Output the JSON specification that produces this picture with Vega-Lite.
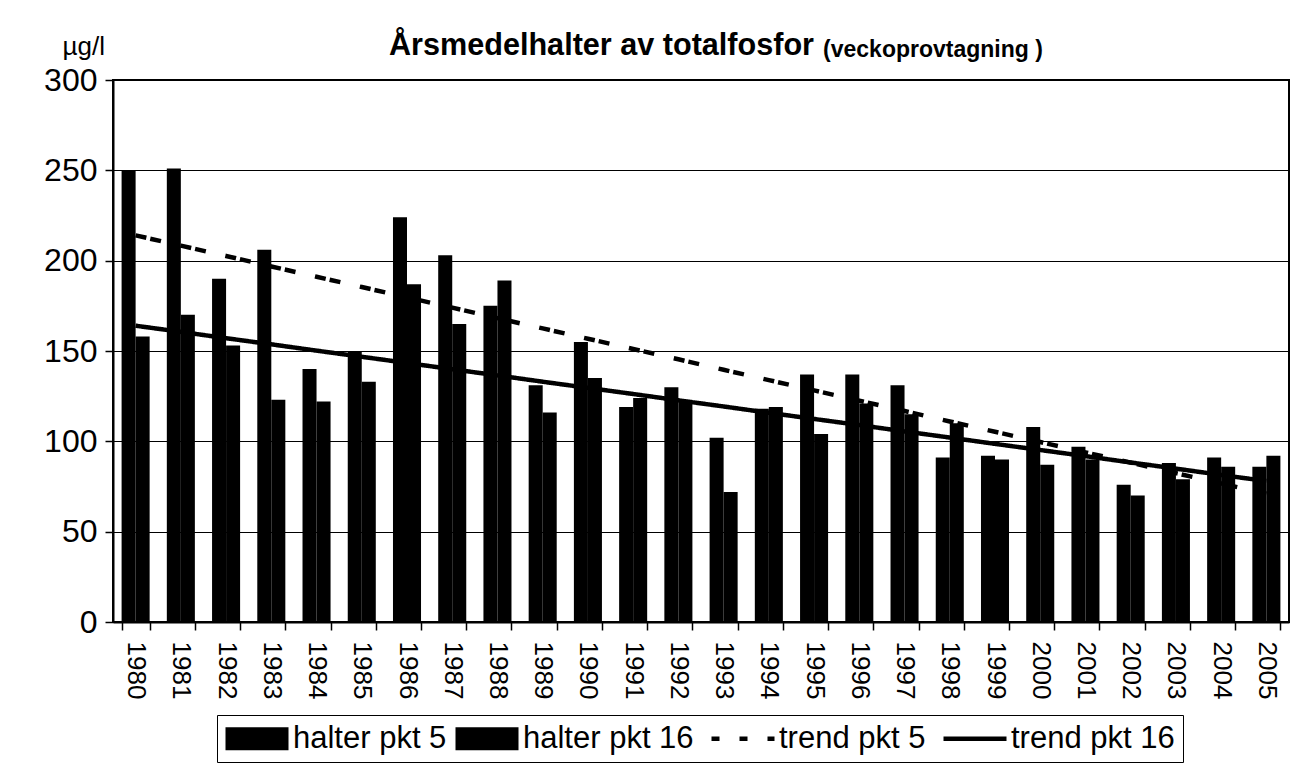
{
  "$schema": "https://vega.github.io/schema/vega-lite/v6.json",
  "width": 1176,
  "height": 542,
  "autosize": {"type": "none"},
  "padding": {"left": 113, "top": 80, "right": 7, "bottom": 144},
  "background": "white",
  "title": {
    "text": "Årsmedelhalter av totalfosfor",
    "anchor": "start",
    "frame": "group",
    "dx": 276,
    "dy": 33,
    "fontSize": 30.6,
    "font": "Liberation Sans",
    "fontWeight": "bold",
    "color": "black"
  },
  "datasets": {
    "bars": [
      {"year": "1980", "serie": "halter pkt 5", "value": 250}, {"year": "1980", "serie": "halter pkt 16", "value": 158},
      {"year": "1981", "serie": "halter pkt 5", "value": 251}, {"year": "1981", "serie": "halter pkt 16", "value": 170},
      {"year": "1982", "serie": "halter pkt 5", "value": 190}, {"year": "1982", "serie": "halter pkt 16", "value": 153},
      {"year": "1983", "serie": "halter pkt 5", "value": 206}, {"year": "1983", "serie": "halter pkt 16", "value": 123},
      {"year": "1984", "serie": "halter pkt 5", "value": 140}, {"year": "1984", "serie": "halter pkt 16", "value": 122},
      {"year": "1985", "serie": "halter pkt 5", "value": 150}, {"year": "1985", "serie": "halter pkt 16", "value": 133},
      {"year": "1986", "serie": "halter pkt 5", "value": 224}, {"year": "1986", "serie": "halter pkt 16", "value": 187},
      {"year": "1987", "serie": "halter pkt 5", "value": 203}, {"year": "1987", "serie": "halter pkt 16", "value": 165},
      {"year": "1988", "serie": "halter pkt 5", "value": 175}, {"year": "1988", "serie": "halter pkt 16", "value": 189},
      {"year": "1989", "serie": "halter pkt 5", "value": 131}, {"year": "1989", "serie": "halter pkt 16", "value": 116},
      {"year": "1990", "serie": "halter pkt 5", "value": 155}, {"year": "1990", "serie": "halter pkt 16", "value": 135},
      {"year": "1991", "serie": "halter pkt 5", "value": 119}, {"year": "1991", "serie": "halter pkt 16", "value": 124},
      {"year": "1992", "serie": "halter pkt 5", "value": 130}, {"year": "1992", "serie": "halter pkt 16", "value": 122},
      {"year": "1993", "serie": "halter pkt 5", "value": 102}, {"year": "1993", "serie": "halter pkt 16", "value": 72},
      {"year": "1994", "serie": "halter pkt 5", "value": 118}, {"year": "1994", "serie": "halter pkt 16", "value": 119},
      {"year": "1995", "serie": "halter pkt 5", "value": 137}, {"year": "1995", "serie": "halter pkt 16", "value": 104},
      {"year": "1996", "serie": "halter pkt 5", "value": 137}, {"year": "1996", "serie": "halter pkt 16", "value": 121},
      {"year": "1997", "serie": "halter pkt 5", "value": 131}, {"year": "1997", "serie": "halter pkt 16", "value": 115},
      {"year": "1998", "serie": "halter pkt 5", "value": 91}, {"year": "1998", "serie": "halter pkt 16", "value": 110},
      {"year": "1999", "serie": "halter pkt 5", "value": 92}, {"year": "1999", "serie": "halter pkt 16", "value": 90},
      {"year": "2000", "serie": "halter pkt 5", "value": 108}, {"year": "2000", "serie": "halter pkt 16", "value": 87},
      {"year": "2001", "serie": "halter pkt 5", "value": 97}, {"year": "2001", "serie": "halter pkt 16", "value": 90},
      {"year": "2002", "serie": "halter pkt 5", "value": 76}, {"year": "2002", "serie": "halter pkt 16", "value": 70},
      {"year": "2003", "serie": "halter pkt 5", "value": 88}, {"year": "2003", "serie": "halter pkt 16", "value": 79},
      {"year": "2004", "serie": "halter pkt 5", "value": 91}, {"year": "2004", "serie": "halter pkt 16", "value": 86},
      {"year": "2005", "serie": "halter pkt 5", "value": 86}, {"year": "2005", "serie": "halter pkt 16", "value": 92}
    ],
    "trend": [
      {"year": "1980", "serie": "trend pkt 5", "value": 214.0}, {"year": "1981", "serie": "trend pkt 5", "value": 208.3},
      {"year": "1982", "serie": "trend pkt 5", "value": 202.6}, {"year": "1983", "serie": "trend pkt 5", "value": 196.8},
      {"year": "1984", "serie": "trend pkt 5", "value": 191.1}, {"year": "1985", "serie": "trend pkt 5", "value": 185.4},
      {"year": "1986", "serie": "trend pkt 5", "value": 179.7}, {"year": "1987", "serie": "trend pkt 5", "value": 174.0},
      {"year": "1988", "serie": "trend pkt 5", "value": 168.2}, {"year": "1989", "serie": "trend pkt 5", "value": 162.5},
      {"year": "1990", "serie": "trend pkt 5", "value": 156.8}, {"year": "1991", "serie": "trend pkt 5", "value": 151.1},
      {"year": "1992", "serie": "trend pkt 5", "value": 145.4}, {"year": "1993", "serie": "trend pkt 5", "value": 139.6},
      {"year": "1994", "serie": "trend pkt 5", "value": 133.9}, {"year": "1995", "serie": "trend pkt 5", "value": 128.2},
      {"year": "1996", "serie": "trend pkt 5", "value": 122.5}, {"year": "1997", "serie": "trend pkt 5", "value": 116.8},
      {"year": "1998", "serie": "trend pkt 5", "value": 111.0}, {"year": "1999", "serie": "trend pkt 5", "value": 105.3},
      {"year": "2000", "serie": "trend pkt 5", "value": 99.6}, {"year": "2001", "serie": "trend pkt 5", "value": 93.9},
      {"year": "2002", "serie": "trend pkt 5", "value": 88.2}, {"year": "2003", "serie": "trend pkt 5", "value": 82.4},
      {"year": "2004", "serie": "trend pkt 5", "value": 76.7}, {"year": "2005", "serie": "trend pkt 5", "value": 71.0},
      {"year": "1980", "serie": "trend pkt 16", "value": 164.0}, {"year": "1981", "serie": "trend pkt 16", "value": 160.6},
      {"year": "1982", "serie": "trend pkt 16", "value": 157.1}, {"year": "1983", "serie": "trend pkt 16", "value": 153.7},
      {"year": "1984", "serie": "trend pkt 16", "value": 150.2}, {"year": "1985", "serie": "trend pkt 16", "value": 146.8},
      {"year": "1986", "serie": "trend pkt 16", "value": 143.4}, {"year": "1987", "serie": "trend pkt 16", "value": 139.9},
      {"year": "1988", "serie": "trend pkt 16", "value": 136.5}, {"year": "1989", "serie": "trend pkt 16", "value": 133.0},
      {"year": "1990", "serie": "trend pkt 16", "value": 129.6}, {"year": "1991", "serie": "trend pkt 16", "value": 126.2},
      {"year": "1992", "serie": "trend pkt 16", "value": 122.7}, {"year": "1993", "serie": "trend pkt 16", "value": 119.3},
      {"year": "1994", "serie": "trend pkt 16", "value": 115.8}, {"year": "1995", "serie": "trend pkt 16", "value": 112.4},
      {"year": "1996", "serie": "trend pkt 16", "value": 109.0}, {"year": "1997", "serie": "trend pkt 16", "value": 105.5},
      {"year": "1998", "serie": "trend pkt 16", "value": 102.1}, {"year": "1999", "serie": "trend pkt 16", "value": 98.6},
      {"year": "2000", "serie": "trend pkt 16", "value": 95.2}, {"year": "2001", "serie": "trend pkt 16", "value": 91.8},
      {"year": "2002", "serie": "trend pkt 16", "value": 88.3}, {"year": "2003", "serie": "trend pkt 16", "value": 84.9},
      {"year": "2004", "serie": "trend pkt 16", "value": 81.4}, {"year": "2005", "serie": "trend pkt 16", "value": 78.0}
    ]
  },
  "layer": [
    {
      "data": {"name": "bars"},
      "mark": {"type": "bar"},
      "encoding": {
        "x": {
          "field": "year",
          "type": "ordinal",
          "scale": {"paddingInner": 0.38, "paddingOuter": 0.19},
          "axis": {
            "title": null,
            "labelAngle": 90,
            "labelFontSize": 26,
            "labelFont": "Liberation Sans",
            "labelColor": "black",
            "labelPadding": 11,
            "tickBand": "extent",
            "tickSize": 8,
            "tickColor": "black",
            "tickWidth": 1.5,
            "domainColor": "black",
            "domainWidth": 2,
            "grid": false
          }
        },
        "xOffset": {"field": "serie", "sort": ["halter pkt 5", "halter pkt 16"], "scale": {"paddingInner": 0}},
        "y": {
          "field": "value",
          "type": "quantitative",
          "scale": {"domain": [0, 300], "nice": false},
          "axis": {
            "title": "µg/l",
            "titleAngle": 0,
            "titleAlign": "left",
            "titleBaseline": "alphabetic",
            "titleX": -51,
            "titleY": -26,
            "titleFontSize": 26,
            "titleFont": "Liberation Sans",
            "titleFontWeight": "normal",
            "titleColor": "black",
            "values": [0, 50, 100, 150, 200, 250, 300],
            "labelFontSize": 32,
            "labelFont": "Liberation Sans",
            "labelColor": "black",
            "labelPadding": 8,
            "tickSize": 8,
            "tickColor": "black",
            "tickWidth": 1.5,
            "domainColor": "black",
            "domainWidth": 2,
            "grid": true,
            "gridColor": "black",
            "gridWidth": 1.2
          }
        },
        "color": {
          "field": "serie",
          "type": "nominal",
          "scale": {
            "domain": ["halter pkt 5", "halter pkt 16", "trend pkt 5", "trend pkt 16"],
            "range": ["#000000", "#000000", "#000000", "#000000"]
          },
          "legend": {
            "orient": "none",
            "legendX": 104,
            "legendY": 635,
            "direction": "horizontal",
            "columns": 4,
            "title": null,
            "labelFontSize": 31,
            "labelFont": "Liberation Sans",
            "labelColor": "black",
            "labelLimit": 400,
            "symbolSize": 900,
            "symbolStrokeWidth": 0,
            "labelOffset": 37,
            "columnPadding": 8,
            "padding": 8,
            "strokeColor": "black",
            "fillColor": "white",
            "encode": {
              "symbols": {
                "update": {
                  "shape": {"signal": "(datum.value == 'trend pkt 5' || datum.value == 'trend pkt 16') ? 'M-1,0H3.2' : 'M-1,-0.77H3.2V0.77H-1Z'"},
                  "fill": {"signal": "(datum.value == 'trend pkt 5' || datum.value == 'trend pkt 16') ? 'transparent' : 'black'"},
                  "stroke": {"value": "black"},
                  "strokeWidth": {"signal": "(datum.value == 'trend pkt 5' || datum.value == 'trend pkt 16') ? 4.5 : 0"},
                  "strokeDash": {"signal": "datum.value == 'trend pkt 5' ? [8, 20] : [1, 0]"},
                  "opacity": {"value": 1}
                }
              }
            }
          }
        }
      }
    },
    {
      "data": {"name": "trend"},
      "mark": {"type": "line", "strokeWidth": 4.5},
      "encoding": {
        "x": {"field": "year", "type": "ordinal"},
        "y": {"field": "value", "type": "quantitative"},
        "color": {"field": "serie", "type": "nominal"},
        "strokeDash": {
          "field": "serie",
          "type": "nominal",
          "scale": {"domain": ["trend pkt 5", "trend pkt 16"], "range": [[11, 4, 11, 20], [1, 0]]},
          "legend": null
        }
      }
    },
    {
      "data": {"values": [{"t": "(veckoprovtagning )"}]},
      "mark": {"type": "text", "align": "left", "baseline": "alphabetic", "dx": 9, "dy": -23, "fontSize": 23, "fontWeight": "bold", "font": "Liberation Sans", "color": "black"},
      "encoding": {
        "x": {"datum": "1995"},
        "y": {"datum": 300},
        "text": {"field": "t"}
      }
    }
  ],
  "config": {
    "view": {"stroke": "black", "strokeWidth": 2}
  }
}
